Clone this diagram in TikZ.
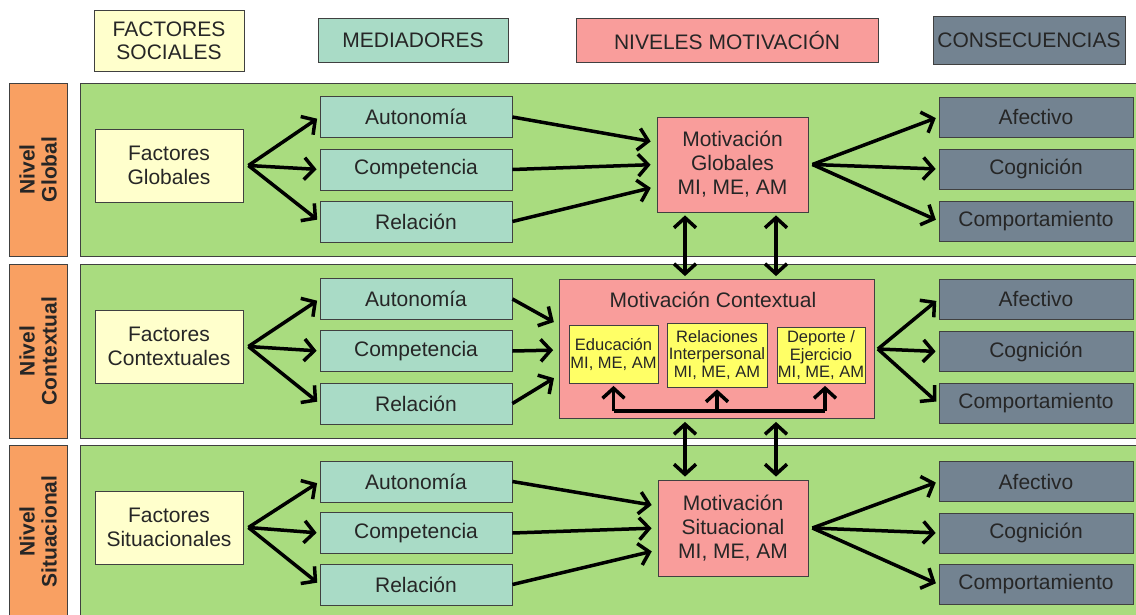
\documentclass[tikz,border=0pt]{standalone}
\usepackage{fontspec}
\setmainfont{Liberation Sans}
\usetikzlibrary{arrows.meta}

\definecolor{socialyellow}{HTML}{FFFFCC}
\definecolor{mediatorgreen}{HTML}{A9DBC6}
\definecolor{motivpink}{HTML}{F99D9B}
\definecolor{conseqgray}{HTML}{738391}
\definecolor{bandgreen}{HTML}{A9DC7F}
\definecolor{levelorange}{HTML}{F9A062}
\definecolor{inneryellow}{HTML}{FFFF66}
\definecolor{edgegray}{HTML}{404040}

\tikzset{
  box/.style={draw=edgegray, line width=0.8pt, inner sep=0pt, align=center,
    text=black!85, font=\fontsize{21}{24}\selectfont},
  head/.style={box, font=\fontsize{21}{23}\selectfont, minimum height=44},
  band/.style={draw=edgegray, line width=0.8pt, fill=bandgreen, inner sep=0pt,
    minimum width=1060},
  level/.style={draw=edgegray, line width=0.8pt, fill=levelorange, rotate=90,
    inner sep=0pt, minimum height=58, align=center, text=black!85,
    font=\bfseries\fontsize{21}{22}\selectfont},
  factor/.style={box, fill=socialyellow, minimum width=148, minimum height=73},
  mediator/.style={box, fill=mediatorgreen, minimum width=192, minimum height=41},
  motiv/.style={box, fill=motivpink},
  conseq/.style={box, fill=conseqgray, minimum width=194, minimum height=40},
  inner/.style={box, fill=inneryellow, font=\fontsize{16.5}{17.5}\selectfont},
  arr/.style={line width=3.5pt, -{Straight Barb[length=10pt,width=22pt]}},
  darr/.style={line width=3.5pt, {Straight Barb[length=10pt,width=22pt]}-{Straight Barb[length=10pt,width=22pt]}}
}

\begin{document}
\begin{tikzpicture}[x=1pt,y=1pt]
  \useasboundingbox (0,0) rectangle (1136,-614);

  \begin{scope}
    \node[head, fill=socialyellow, minimum width=150, minimum height=61] (hfac) at (169,-40.5) {FACTORES\\SOCIALES};
    \node[head, fill=mediatorgreen, minimum width=190] (hmed) at (413,-40) {MEDIADORES};
    \node[head, fill=motivpink, minimum width=302] (hniv) at (727,-40) {NIVELES MOTIVACIÓN};
    \node[head, fill=conseqgray, minimum width=192, minimum height=48] (hcon) at (1029,-40) {CONSECUENCIAS};
  \end{scope}

  \begin{scope}
    \node[band, minimum height=173] (bandg) at (610,-169.5) {};
    \node[band, minimum height=174] (bandc) at (610,-351) {};
    \node[band, minimum height=173] (bands) at (610,-531.5) {};
    \node[level, minimum width=173] (lvg) at (38,-169.5) {Nivel\\Global};
    \node[level, minimum width=174] (lvc) at (38,-351) {Nivel\\Contextual};
    \node[level, minimum width=173] (lvs) at (38,-531.5) {Nivel\\Situacional};
  \end{scope}

  \begin{scope}
    \node[factor] (factg) at (169,-165.5) {Factores\\Globales};
    \node[factor] (factc) at (169,-346.5) {Factores\\Contextuales};
    \node[factor] (facts) at (169,-527.5) {Factores\\Situacionales};

    \node[mediator] (autg) at (416,-117) {Autonomía};
    \node[mediator] (comg) at (416,-169.5) {Competencia};
    \node[mediator] (relg) at (416,-221.5) {Relación};
    \node[mediator] (autc) at (416,-299) {Autonomía};
    \node[mediator] (comc) at (416,-351) {Competencia};
    \node[mediator] (relc) at (416,-403.5) {Relación};
    \node[mediator] (auts) at (416,-481.5) {Autonomía};
    \node[mediator] (coms) at (416,-533) {Competencia};
    \node[mediator] (rels) at (416,-584.5) {Relación};

    \node[motiv, minimum width=151, minimum height=95] (motg) at (732.5,-164.5) {Motivación\\Globales\\MI, ME, AM};
    \node[motiv, minimum width=315, minimum height=139] (ctx) at (717,-349) {};
    \node[text=black!85, font=\fontsize{21}{24}\selectfont] (ctxt) at (713,-300) {Motivación Contextual};
    \node[motiv, minimum width=150, minimum height=96] (mots) at (733,-528) {Motivación\\Situacional\\MI, ME, AM};

    \node[inner, minimum width=89, minimum height=58] (edu) at (613.5,-354.5) {Educación\\MI, ME, AM};
    \node[inner, minimum width=100, minimum height=64] (rip) at (717,-355) {Relaciones\\Interpersonal\\MI, ME, AM};
    \node[inner, minimum width=88, minimum height=56] (dep) at (821,-355.5) {Deporte /\\Ejercicio\\MI, ME, AM};

    \node[conseq] (afg) at (1036,-117) {Afectivo};
    \node[conseq] (cog) at (1036,-169) {Cognición};
    \node[conseq] (cpg) at (1036,-221) {Comportamiento};
    \node[conseq] (afc) at (1036,-299) {Afectivo};
    \node[conseq] (coc) at (1036,-351.5) {Cognición};
    \node[conseq] (cpc) at (1036,-403.5) {Comportamiento};
    \node[conseq] (afs) at (1036,-481.5) {Afectivo};
    \node[conseq] (cos) at (1036,-533) {Cognición};
    \node[conseq] (cps) at (1036,-584.5) {Comportamiento};
  \end{scope}

  \coordinate (fgo) at ([xshift=5]factg.east);
  \coordinate (fco) at ([xshift=5]factc.east);
  \coordinate (fso) at ([xshift=5]facts.east);
  \coordinate (mgo) at ([xshift=4]motg.east);
  \coordinate (mco) at ([xshift=3]ctx.east);
  \coordinate (mso) at ([xshift=4]mots.east);
  \coordinate (vl) at (685,0);
  \coordinate (vr) at (776,0);
  \coordinate (ib) at (0,-411);
  \coordinate (dpin) at ([xshift=4]dep.south);

  \begin{scope}[every edge/.style={draw, arr, shorten >=3}]
    \path (fgo) edge (autg.west);
    \path (fgo) edge (comg.west);
    \path (fgo) edge (relg.west);
    \path (fco) edge (autc.west);
    \path (fco) edge (comc.west);
    \path (fco) edge (relc.west);
    \path (fso) edge (auts.west);
    \path (fso) edge (coms.west);
    \path (fso) edge (rels.west);

    \path (mgo) edge (afg.west);
    \path (mgo) edge (cog.west);
    \path (mgo) edge (cpg.west);
    \path (mco) edge (afc.west);
    \path (mco) edge (coc.west);
    \path (mco) edge (cpc.west);
    \path (mso) edge (afs.west);
    \path (mso) edge (cos.west);
    \path (mso) edge (cps.west);
  \end{scope}

  \begin{scope}[every edge/.style={draw, arr, shorten >=6}]
    \path (autg.east) edge ([yshift=22]motg.west);
    \path (comg.east) edge (motg.west);
    \path (relg.east) edge ([yshift=-22]motg.west);
    \path (autc.east) edge ([yshift=24]ctx.west);
    \path (comc.east) edge ([yshift=-1]ctx.west);
    \path (relc.east) edge ([yshift=-26]ctx.west);
    \path (auts.east) edge ([yshift=22]mots.west);
    \path (coms.east) edge (mots.west);
    \path (rels.east) edge ([yshift=-22]mots.west);
  \end{scope}

  \begin{scope}[every edge/.style={draw, darr, shorten >=3, shorten <=3}]
    \path (motg.south -| vl) edge (ctx.north -| vl);
    \path (motg.south -| vr) edge (ctx.north -| vr);
    \path (ctx.south -| vl) edge (mots.north -| vl);
    \path (ctx.south -| vr) edge (mots.north -| vr);
  \end{scope}

  \draw[line width=3.5pt] (edu.south |- ib) -- (dpin |- ib);
  \begin{scope}[every edge/.style={draw, arr, shorten >=2}]
    \path (edu.south |- ib) edge (edu.south);
    \path (rip.south |- ib) edge (rip.south);
    \path (dpin |- ib) edge (dpin);
  \end{scope}

\end{tikzpicture}
\end{document}
